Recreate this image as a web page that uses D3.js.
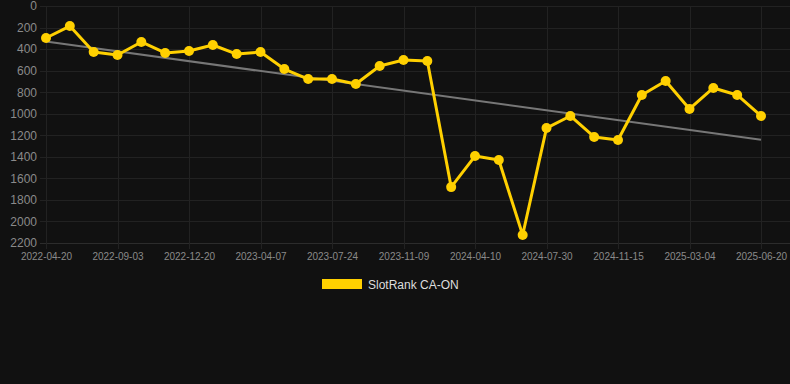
<!DOCTYPE html>
<html>
<head>
<meta charset="utf-8">
<script src="https://cdn.jsdelivr.net/npm/d3@7"></script>
<style>
  html, body { margin: 0; padding: 0; background: #111111; }
  svg { display: block; }
</style>
</head>
<body>
<svg id="chart" width="790" height="384"></svg>
<script>
const categories = [
  "2022-04-20","2022-06-04","2022-07-19","2022-09-03","2022-10-09","2022-11-14",
  "2022-12-20","2023-01-25","2023-03-02","2023-04-07","2023-05-13","2023-06-18",
  "2023-07-24","2023-08-29","2023-10-04","2023-11-09","2023-12-30","2024-02-19",
  "2024-04-10","2024-05-17","2024-06-23","2024-07-30","2024-09-04","2024-10-10",
  "2024-11-15","2024-12-21","2025-01-27","2025-03-04","2025-04-09","2025-05-15",
  "2025-06-20"
];
const rankValues = [
  297, 186, 427, 455, 334, 436, 418, 362, 446, 427,
  585, 678, 678, 724, 557, 501, 511, 1681, 1393, 1430,
  2126, 1133, 1021, 1216, 1244, 826, 696, 956, 761, 826,
  1021
];
const yTicks = [0, 200, 400, 600, 800, 1000, 1200, 1400, 1600, 1800, 2000, 2200];
const xTickLabels = categories.filter((d, i) => i % 3 === 0);
const seriesName = "SlotRank CA-ON";

(function () {
const svg = d3.select("#chart");
const plotLeft = 46, plotRight = 761, plotTop = 6, plotBottom = 243;

const x = d3.scalePoint().domain(categories).range([plotLeft, plotRight]);
const y = d3.scaleLinear().domain([0, 2200]).range([plotTop, plotBottom]);

// horizontal grid
const gGrid = svg.append("g");
gGrid.selectAll("line.h").data(yTicks).enter().append("line")
  .attr("x1", 40).attr("x2", 790)
  .attr("y1", d => Math.round(y(d)) + 0.5).attr("y2", d => Math.round(y(d)) + 0.5)
  .attr("stroke", d => d === 2200 ? "#2c2c2c" : "#222222").attr("stroke-width", 1);
// vertical grid
gGrid.selectAll("line.v").data(xTickLabels).enter().append("line")
  .attr("x1", d => Math.round(x(d)) + 0.5).attr("x2", d => Math.round(x(d)) + 0.5)
  .attr("y1", plotTop).attr("y2", plotBottom + 6)
  .attr("stroke", "#222222").attr("stroke-width", 1);

// y axis labels
const yAxis = d3.axisLeft(y).tickValues(yTicks).tickFormat(d3.format("d")).tickSize(0).tickPadding(0);
const gy = svg.append("g").attr("transform", "translate(37,0)").call(yAxis);
gy.select(".domain").remove();
gy.selectAll("text").attr("fill", "#8a8a8a").attr("font-size", 12)
  .attr("font-family", "'Liberation Sans', Arial, sans-serif");

// x axis labels
const xAxis = d3.axisBottom(x).tickValues(xTickLabels).tickSize(0).tickPadding(0);
const gx = svg.append("g").attr("transform", "translate(0,253)").call(xAxis);
gx.select(".domain").remove();
gx.selectAll("text").attr("fill", "#8a8a8a").attr("font-size", 10)
  .attr("font-family", "'Liberation Sans', Arial, sans-serif");

// trend line (least squares)
const n = rankValues.length;
const xs = d3.range(n);
const mx = d3.mean(xs), my = d3.mean(rankValues);
const slope = d3.sum(xs, i => (i - mx) * (rankValues[i] - my)) / d3.sum(xs, i => (i - mx) * (i - mx));
const intercept = my - slope * mx;
svg.append("line")
  .attr("x1", x(categories[0])).attr("y1", y(intercept))
  .attr("x2", x(categories[n - 1])).attr("y2", y(intercept + slope * (n - 1)))
  .attr("stroke", "#777777").attr("stroke-width", 2);

// series line
const line = d3.line().x((d, i) => x(categories[i])).y(d => y(d));
svg.append("path").datum(rankValues)
  .attr("d", line).attr("fill", "none")
  .attr("stroke", "#FFD000").attr("stroke-width", 3).attr("stroke-linejoin", "round");

svg.selectAll("circle.pt").data(rankValues).enter().append("circle")
  .attr("cx", (d, i) => x(categories[i])).attr("cy", d => y(d))
  .attr("r", 5).attr("fill", "#FFD000");

// legend
const lg = svg.append("g");
lg.append("rect").attr("x", 322).attr("y", 279).attr("width", 40).attr("height", 10)
  .attr("fill", "#FFD000");
lg.append("text").attr("x", 368).attr("y", 288.5).text(seriesName)
  .attr("fill", "#dddddd").attr("font-size", 12)
  .attr("font-family", "'Liberation Sans', Arial, sans-serif");
})();
</script>
</body>
</html>
